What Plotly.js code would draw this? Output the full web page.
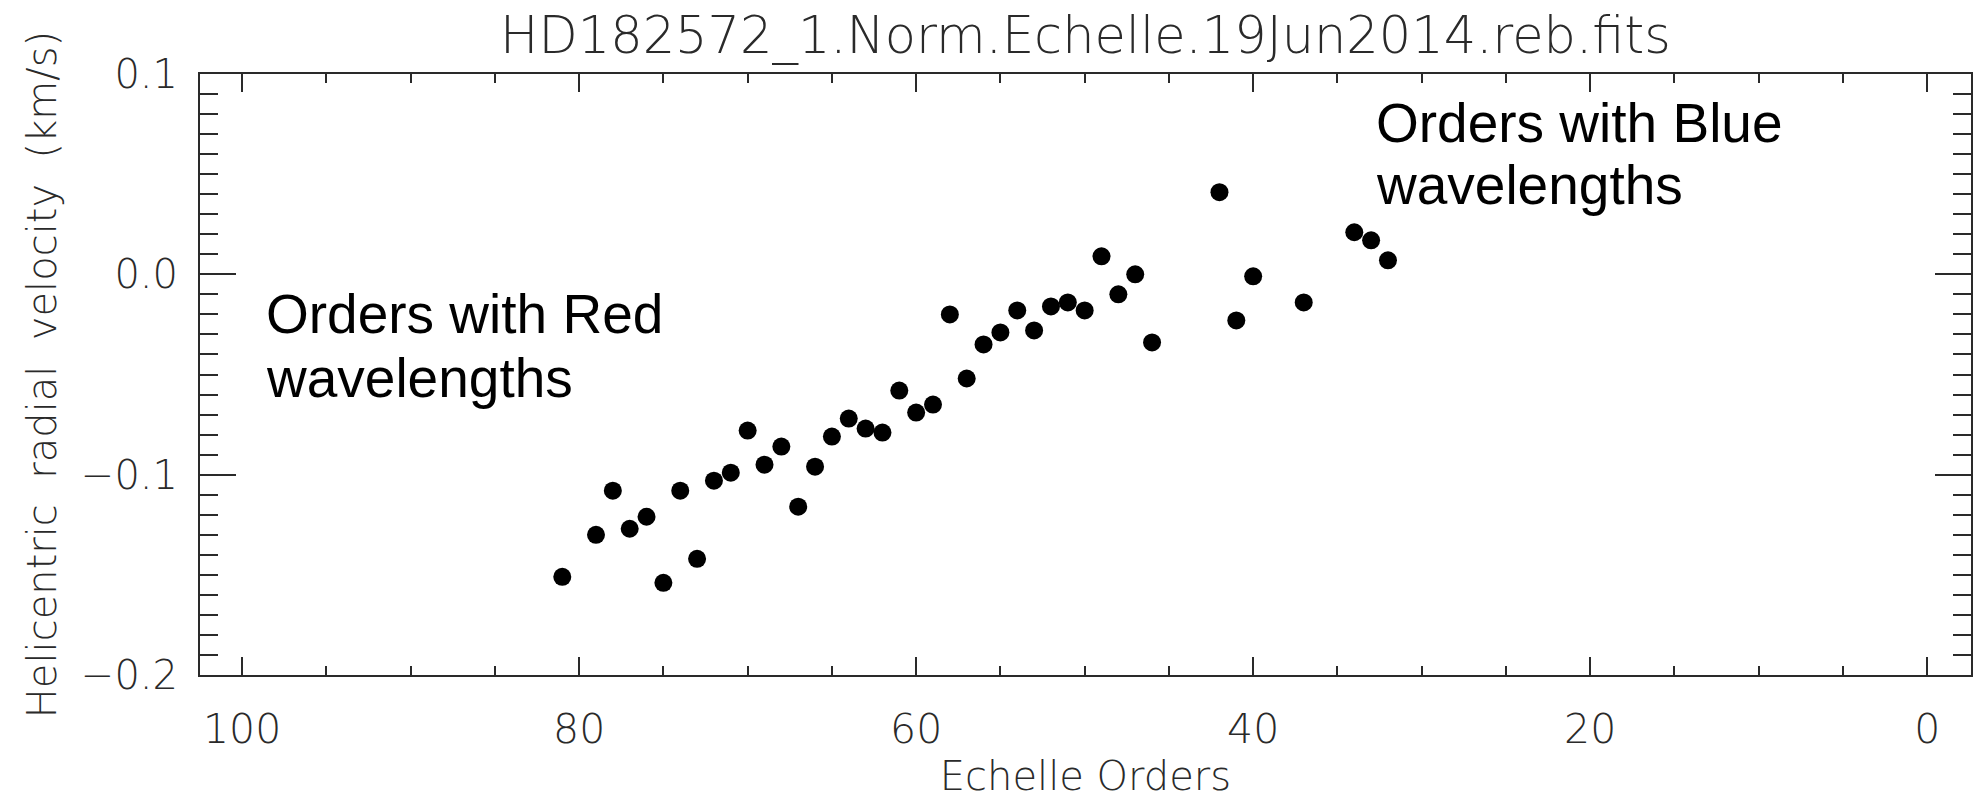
<!DOCTYPE html>
<html>
<head>
<meta charset="utf-8">
<script src="https://cdn.plot.ly/plotly-3.0.1.min.js"></script>
<style>
  html, body { margin: 0; padding: 0; background: #ffffff; }
  #chart { width: 1981px; height: 799px; }
</style>
</head>
<body>
<div id="chart"></div>
<script>
// Echelle order numbers and the radial velocity measured in each order (km/s)
const orders = [81, 79, 78, 77, 76, 75, 74, 73, 72, 71, 70, 69, 68, 67, 66, 65, 64, 63, 62, 61,
                60, 59, 58, 57, 56, 55, 54, 53, 52, 51, 50, 49, 48, 47, 46, 42, 41, 40, 37, 34, 33, 32];
const velocities = [-0.151, -0.130, -0.108, -0.127, -0.121, -0.154, -0.108, -0.142, -0.103, -0.099,
                    -0.078, -0.095, -0.086, -0.116, -0.096, -0.081, -0.072, -0.077, -0.079, -0.058,
                    -0.069, -0.065, -0.020, -0.052, -0.035, -0.029, -0.018, -0.028, -0.016, -0.014,
                    -0.018, 0.009, -0.010, 0.000, -0.034, 0.041, -0.023, -0.001, -0.014, 0.021,
                    0.017, 0.007];

const plotTitle = 'HD182572_1.Norm.Echelle.19Jun2014.reb.fits';
const xTitle = 'Echelle Orders';
const yTitle = 'Helicentric  radial  velocity  (km/s)';
const redLabel = ['Orders with Red', 'wavelengths'];
const blueLabel = ['Orders with Blue', 'wavelengths'];

const thinFont = "'DejaVu Sans ExtraLight', 'DejaVu Sans', sans-serif";
const axisInk = '#2a2a2a';

const trace = {
  type: 'scatter',
  mode: 'markers',
  x: orders,
  y: velocities,
  marker: { color: '#000000', size: 18, symbol: 'circle', line: { width: 0 } },
  hoverinfo: 'x+y',
  showlegend: false
};

const noteFont = { family: "'Liberation Sans', Arial, sans-serif", size: 55, color: '#000000' };
function note(text, x, y) {
  return { text: text, x: x, y: y, xref: 'x', yref: 'y', xanchor: 'left', yanchor: 'middle',
           showarrow: false, font: noteFont, align: 'left' };
}

const layout = {
  width: 1981,
  height: 799,
  paper_bgcolor: '#ffffff',
  plot_bgcolor: '#ffffff',
  margin: { l: 200, r: 10, t: 74, b: 124, pad: 0 },
  title: {
    text: plotTitle,
    font: { family: thinFont, size: 51, color: axisInk, weight: 200 },
    x: 0.5, xanchor: 'center', xref: 'paper',
    y: 0.956, yanchor: 'middle', yref: 'container'
  },
  xaxis: {
    range: [102.5, -2.6],
    tick0: 0, dtick: 20,
    ticks: 'inside', ticklen: 18, tickwidth: 2, tickcolor: axisInk,
    minor: { dtick: 5, ticks: 'inside', ticklen: 9, tickwidth: 2, tickcolor: axisInk, showgrid: false },
    showline: true, linecolor: axisInk, linewidth: 2, mirror: 'allticks',
    showgrid: false, zeroline: false,
    tickfont: { family: thinFont, size: 41, color: axisInk, weight: 200 },
    ticklabelstandoff: 17,
    title: { text: xTitle, font: { family: thinFont, size: 40, color: axisInk, weight: 200 }, standoff: 34 }
  },
  yaxis: {
    range: [-0.2, 0.1],
    tick0: 0, dtick: 0.1, tickformat: '.1f',
    ticks: 'inside', ticklen: 36, tickwidth: 2, tickcolor: axisInk,
    minor: { dtick: 0.01, ticks: 'inside', ticklen: 18, tickwidth: 2, tickcolor: axisInk, showgrid: false },
    showline: true, linecolor: axisInk, linewidth: 2, mirror: 'allticks',
    showgrid: false, zeroline: false,
    tickfont: { family: thinFont, size: 40, color: axisInk, weight: 200 },
    ticklabelstandoff: 12,
    title: { text: yTitle, font: { family: thinFont, size: 40, color: axisInk, weight: 200 }, standoff: 12 }
  },
  annotations: [
    note(redLabel[0], 98.7, -0.020),
    note(redLabel[1], 98.7, -0.0515),
    note(blueLabel[0], 32.85, 0.0755),
    note(blueLabel[1], 32.85, 0.0445)
  ]
};

Plotly.newPlot('chart', [trace], layout, { displayModeBar: false, responsive: false });
</script>
</body>
</html>
